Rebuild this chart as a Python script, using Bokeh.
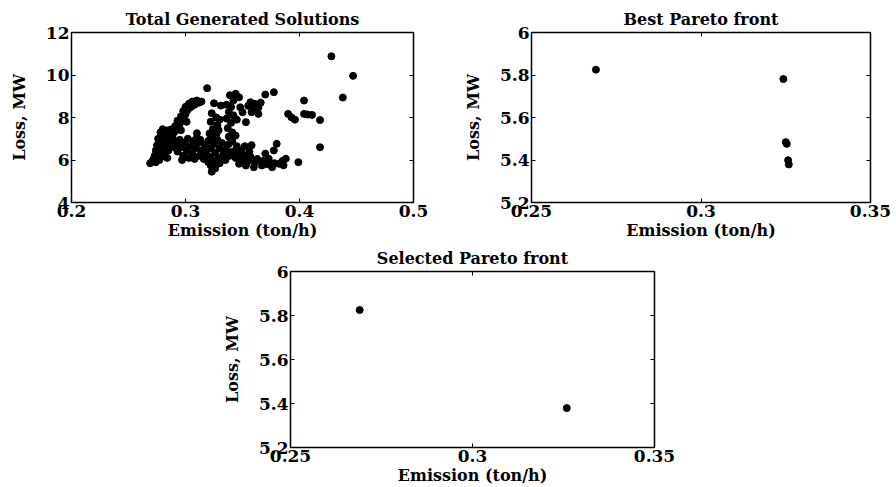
from bokeh.plotting import figure
from bokeh.models import LinearAxis, Range1d, Spacer, FixedTicker, CustomLabelingPolicy
from bokeh.layouts import column, row
from bokeh.embed import file_html
from bokeh.resources import INLINE

# ---------------- data ----------------
# Total generated solutions: (emission ton/h, loss MW), read from the picture group by group
all_points = [
    # left tail and lobe
    (0.269, 5.85), (0.271, 5.95), (0.272, 6.05), (0.274, 5.90), (0.273, 6.20), (0.275, 6.10), (0.276, 6.30),
    (0.274, 6.45), (0.277, 6.55), (0.275, 6.70), (0.278, 6.85), (0.276, 7.00), (0.279, 7.10), (0.278, 7.30),
    (0.280, 7.45), (0.282, 7.35), (0.281, 7.15), (0.283, 7.00), (0.281, 6.80), (0.284, 6.65), (0.280, 6.50),
    (0.282, 6.30), (0.279, 6.15), (0.277, 6.00), (0.285, 6.45), (0.286, 6.90), (0.287, 7.20), (0.285, 7.40),
    (0.288, 6.70), (0.289, 7.00), (0.284, 6.10),
    # rising branch
    (0.288, 7.45), (0.290, 7.30), (0.291, 7.60), (0.293, 7.45), (0.293, 7.85), (0.295, 7.70), (0.296, 8.05),
    (0.298, 7.90), (0.298, 8.30), (0.300, 8.15), (0.300, 8.50), (0.302, 8.35), (0.303, 8.65), (0.305, 8.50),
    (0.306, 8.75), (0.308, 8.60), (0.310, 8.80), (0.312, 8.70), (0.314, 8.75), (0.296, 7.40), (0.301, 7.80),
    # dense band
    (0.290, 6.60), (0.292, 6.85), (0.293, 6.40), (0.295, 6.95), (0.296, 6.60), (0.298, 6.20), (0.299, 6.80),
    (0.301, 6.45), (0.302, 7.00), (0.303, 6.10), (0.304, 6.65), (0.306, 6.30), (0.307, 6.90), (0.308, 6.05),
    (0.309, 6.55), (0.311, 6.80), (0.312, 6.20), (0.313, 6.95), (0.314, 6.45), (0.316, 6.05), (0.317, 6.70),
    (0.318, 6.35), (0.320, 6.90), (0.321, 6.15), (0.322, 6.55), (0.324, 6.00), (0.325, 6.75), (0.326, 6.35),
    (0.328, 6.95), (0.329, 6.10), (0.330, 6.55), (0.332, 6.80), (0.333, 6.25), (0.335, 6.00), (0.336, 6.50),
    (0.338, 6.75), (0.339, 6.20), (0.341, 6.90), (0.342, 6.40), (0.344, 6.10), (0.345, 6.65), (0.347, 6.30),
    (0.297, 6.00), (0.310, 7.05), (0.319, 6.00),
    # column near 0.325
    (0.319, 9.38), (0.325, 8.67), (0.331, 8.56), (0.323, 8.20), (0.327, 8.00), (0.322, 7.80), (0.328, 7.65),
    (0.324, 7.45), (0.321, 7.25), (0.327, 7.20), (0.323, 7.00), (0.329, 7.40), (0.322, 5.75), (0.326, 5.60),
    (0.323, 5.45), (0.327, 5.80), (0.320, 5.90), (0.310, 7.26), (0.330, 7.90), (0.330, 5.85),
    # column near 0.34
    (0.339, 9.05), (0.344, 9.12), (0.347, 8.95), (0.342, 8.80), (0.336, 8.60), (0.340, 8.50), (0.338, 8.25),
    (0.342, 8.10), (0.336, 7.95), (0.340, 7.75), (0.337, 7.50), (0.341, 7.30), (0.344, 7.15), (0.338, 7.10),
    (0.348, 8.48), (0.350, 8.25), (0.353, 7.78), (0.345, 7.90),
    # upper right group
    (0.357, 8.72), (0.361, 8.64), (0.364, 8.48), (0.358, 8.25), (0.364, 8.17), (0.360, 8.45), (0.370, 9.08),
    (0.3775, 9.19), (0.366, 8.70), (0.355, 8.55),
    # lower band
    (0.347, 5.82), (0.350, 6.00), (0.351, 6.20), (0.349, 6.45), (0.352, 6.65), (0.353, 5.74), (0.355, 5.95),
    (0.357, 6.15), (0.356, 6.40), (0.360, 5.66), (0.361, 5.90), (0.363, 6.05), (0.367, 5.74), (0.368, 5.95),
    (0.370, 6.30), (0.373, 6.06), (0.372, 5.80), (0.376, 5.66), (0.378, 5.85), (0.382, 5.82), (0.385, 5.95),
    (0.388, 6.06), (0.386, 5.75), (0.380, 6.76), (0.3775, 6.45), (0.399, 5.90), (0.358, 6.70),
    # scattered points
    (0.390, 8.17), (0.393, 8.01), (0.396, 7.90), (0.404, 8.80), (0.404, 8.17), (0.407, 8.14), (0.411, 8.12),
    (0.418, 7.88), (0.418, 6.60), (0.428, 10.88), (0.447, 9.96), (0.438, 8.94),
]
all_emission = [pt[0] for pt in all_points]
all_loss = [pt[1] for pt in all_points]

best_emission = [0.2690, 0.3243, 0.3250, 0.3253, 0.3257, 0.3259]
best_loss = [5.825, 5.781, 5.484, 5.476, 5.399, 5.379]

sel_emission = [0.2690, 0.3259]
sel_loss = [5.825, 5.379]

xticks_all = [0.2, 0.3, 0.4, 0.5]
yticks_all = [4, 6, 8, 10, 12]
xticks_pf = [0.25, 0.3, 0.35]
yticks_pf = [5.2, 5.4, 5.6, 5.8, 6.0]

FONT = "DejaVu Serif"


def make_fig(title, xr, yr, xt, yt, fw, fh, left, right, top, bottom, ylab_standoff):
    p = figure(frame_width=fw, frame_height=fh,
               x_range=Range1d(*xr), y_range=Range1d(*yr),
               output_backend="svg", toolbar_location=None,
               min_border_left=left, min_border_right=right,
               min_border_top=top, min_border_bottom=bottom,
               x_axis_label="Emission (ton/h)", y_axis_label="Loss, MW",
               title=title)
    p.title.text_font = FONT
    p.title.text_font_style = "bold"
    p.title.text_font_size = "16px"
    p.title.text_color = "black"
    p.title.align = "center"
    p.title.standoff = 8
    p.grid.visible = False
    p.outline_line_color = "black"
    p.outline_line_width = 1.5
    p.background_fill_color = "white"
    p.border_fill_color = "white"
    for ax in p.xaxis + p.yaxis:
        ax.axis_line_color = None
        ax.major_tick_in = 4
        ax.major_tick_out = 0
        ax.minor_tick_line_color = None
        ax.major_tick_line_color = "black"
        ax.major_label_text_font = FONT
        ax.major_label_text_font_style = "bold"
        ax.major_label_text_font_size = "17px"
        ax.major_label_text_color = "black"
        ax.axis_label_text_font = FONT
        ax.axis_label_text_font_style = "bold"
        ax.axis_label_text_font_size = "16px"
        ax.axis_label_text_color = "black"
        ax.major_label_standoff = 2
        ax.axis_label_standoff = 1
    p.xaxis.ticker = FixedTicker(ticks=xt)
    p.yaxis.ticker = FixedTicker(ticks=yt)
    p.yaxis.axis_label_standoff = ylab_standoff
    # inward ticks on top and right, as in a boxed plot (no labels drawn)
    for loc, tk in (("above", xt), ("right", yt)):
        ax = LinearAxis(ticker=FixedTicker(ticks=tk))
        ax.axis_line_color = None
        ax.major_tick_in = 4
        ax.major_tick_out = 0
        ax.major_tick_line_color = "black"
        ax.minor_tick_line_color = None
        ax.major_label_text_font_size = "0px"
        ax.major_label_policy = CustomLabelingPolicy(code="return []")
        ax.major_label_standoff = 0
        p.add_layout(ax, loc)
    return p


p1 = make_fig("Total Generated Solutions", (0.2, 0.5), (4, 12), xticks_all, yticks_all,
              342, 170, 71, 27, 32, 38, 14)
p1.scatter(all_emission, all_loss, size=7, color="black")

p2 = make_fig("Best Pareto front", (0.25, 0.35), (5.2, 6.0), xticks_pf, yticks_pf,
              339, 170, 91, 26, 32, 38, 14)
p2.scatter(best_emission, best_loss, size=7, color="black")

p3 = make_fig("Selected Pareto front", (0.25, 0.35), (5.2, 6.0), xticks_pf, yticks_pf,
              364, 176, 90, 42, 29, 40, 14)
p3.scatter(sel_emission, sel_loss, size=7, color="black")

layout = column(row(p1, p2), row(Spacer(width=200, height=10), p3))

open("out.html", "w").write(file_html(layout, INLINE))
